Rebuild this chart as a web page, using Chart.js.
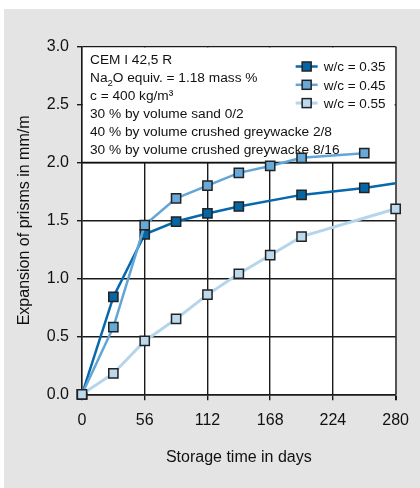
<!DOCTYPE html>
<html>
<head>
<meta charset="utf-8">
<script src="https://cdn.jsdelivr.net/npm/chart.js@4.4.1/dist/chart.umd.min.js"></script>
<style>
  html, body { margin: 0; padding: 0; background: #ffffff; }
  #wrap { width: 420px; height: 488px; position: relative; }
</style>
</head>
<body>
<div id="wrap"><canvas id="myChart"></canvas></div>
<script>
/*declare chart data*/
const seriesLabels = ['w/c = 0.35', 'w/c = 0.45', 'w/c = 0.55'];

const days035 = [0, 28, 56, 84, 112, 140, 196, 252, 280];
const exp035  = [0, 0.84, 1.38, 1.49, 1.56, 1.62, 1.72, 1.78, 1.82];

const days045 = [0, 28, 56, 84, 112, 140, 168, 196, 252];
const exp045  = [0, 0.58, 1.46, 1.69, 1.80, 1.91, 1.97, 2.04, 2.08];

const days055 = [0, 28, 56, 84, 112, 140, 168, 196, 280];
const exp055  = [0, 0.18, 0.46, 0.65, 0.86, 1.04, 1.20, 1.36, 1.60];

const xTicks = [0, 56, 112, 168, 224, 280];
const yTicks = [0, 0.5, 1.0, 1.5, 2.0, 2.5, 3.0];

const infoLines = [
  'CEM I 42,5 R',
  'Na2O equiv. = 1.18 mass %',
  'c = 400 kg/m\u00b3',
  '30 % by volume sand 0/2',
  '40 % by volume crushed greywacke 2/8',
  '30 % by volume crushed greywacke 8/16'
];

const lineColors   = ['#0768ab', '#62a6d8', '#b5d5ec'];
const markerColors = ['#0566a6', '#67aad9', '#bcd9ee'];

function toPoints(xs, ys) {
  return xs.map((x, i) => ({ x: x, y: ys[i] }));
}

/*wire the datasets*/
const seriesPoints = [
  toPoints(days035, exp035),
  toPoints(days045, exp045),
  toPoints(days055, exp055)
];

const datasets = seriesPoints.map((pts, i) => ({
  label: seriesLabels[i],
  data: pts,
  borderColor: lineColors[i],
  borderWidth: i === 2 ? 3 : 2.5,
  backgroundColor: markerColors[i],
  pointStyle: 'rect',
  // the 0.35 curve runs on to the right edge without a last marker
  pointRadius: pts.map((p, j) => (i === 0 && j === pts.length - 1) ? 0 : 6.5),
  pointBorderColor: '#222222',
  pointBorderWidth: 1.5,
  pointBackgroundColor: markerColors[i],
  order: 3 - i,
  clip: false,
  tension: 0
}));

/*panel background, info box and legend*/
const panelPlugin = {
  id: 'panel',
  beforeDraw(chart) {
    const { ctx, chartArea: a } = chart;
    ctx.save();
    ctx.fillStyle = '#ffffff';
    ctx.fillRect(0, 0, chart.width, chart.height);
    ctx.fillStyle = '#e3e4e3';
    ctx.fillRect(4, 9, chart.width - 4, chart.height - 9);
    ctx.fillStyle = '#ffffff';
    ctx.fillRect(a.left, a.top, a.right - a.left, a.bottom - a.top);
    ctx.restore();
  },
  beforeDatasetsDraw(chart) {
    const { ctx, chartArea: a, scales } = chart;
    const yBox = scales.y.getPixelForValue(2.0);
    ctx.save();
    ctx.fillStyle = '#ffffff';
    ctx.fillRect(a.left + 1, a.top + 1, a.right - a.left - 2, yBox - a.top - 1);
    ctx.strokeStyle = '#111111';
    ctx.lineWidth = 1.4;
    ctx.beginPath();
    ctx.moveTo(a.left, yBox);
    ctx.lineTo(a.right, yBox);
    ctx.stroke();

    /*info text*/
    ctx.fillStyle = '#111111';
    ctx.textBaseline = 'alphabetic';
    ctx.textAlign = 'left';
    const tx = a.left + 8;
    infoLines.forEach((line, i) => {
      const by = a.top + 17.5 + i * 17.9;
      if (line.startsWith('Na2O')) {
        ctx.font = '13.7px "Liberation Sans", Arial, sans-serif';
        ctx.fillText('Na', tx, by);
        let w = ctx.measureText('Na').width;
        ctx.font = '9.5px "Liberation Sans", Arial, sans-serif';
        ctx.fillText('2', tx + w, by + 4);
        w += ctx.measureText('2').width;
        ctx.font = '13.7px "Liberation Sans", Arial, sans-serif';
        ctx.fillText(line.slice(3), tx + w, by);
      } else {
        ctx.font = '13.7px "Liberation Sans", Arial, sans-serif';
        ctx.fillText(line, tx, by);
      }
    });

    /*legend*/
    ctx.font = '13.5px "Liberation Sans", Arial, sans-serif';
    ctx.textBaseline = 'middle';
    seriesLabels.forEach((lab, i) => {
      const ly = a.top + 20 + i * 18.3;
      const lx = a.right - 100;
      ctx.strokeStyle = lineColors[i];
      ctx.lineWidth = i === 2 ? 3 : 2.5;
      ctx.beginPath();
      ctx.moveTo(lx, ly);
      ctx.lineTo(lx + 22, ly);
      ctx.stroke();
      ctx.fillStyle = markerColors[i];
      ctx.strokeStyle = '#222222';
      ctx.lineWidth = 1.5;
      ctx.fillRect(lx + 6.5, ly - 4.5, 9, 9);
      ctx.strokeRect(lx + 6.5, ly - 4.5, 9, 9);
      ctx.fillStyle = '#111111';
      ctx.fillText(lab, lx + 28, ly + 1);
    });
    ctx.restore();
  }
};

/*chart options*/
const tickFont = { family: '"Liberation Sans", Arial, sans-serif', size: 16 };
const titleFont = { family: '"Liberation Sans", Arial, sans-serif', size: 16 };

const config = {
  type: 'line',
  data: { datasets: datasets },
  plugins: [panelPlugin],
  options: {
    responsive: true,
    maintainAspectRatio: false,
    animation: false,
    events: [],
    layout: { padding: { top: 46.5, right: 15, left: 0, bottom: 0 } },
    plugins: {
      legend: { display: false },
      tooltip: { enabled: false }
    },
    scales: {
      x: {
        type: 'linear',
        min: 0,
        max: 280,
        afterBuildTicks: (s) => { s.ticks = xTicks.map(v => ({ value: v })); },
        afterFit: (s) => { s.height = 93.7; },
        ticks: { font: tickFont, color: '#111111', padding: 11, maxRotation: 0 },
        grid: {
          color: (c) => c.tick && c.tick.value === 280 ? '#555555' : '#1a1a1a',
          lineWidth: (c) => c.tick && c.tick.value === 280 ? 2 : 1.4,
          tickLength: 6,
          tickColor: '#1a1a1a'
        },
        border: { color: '#1a1a1a', width: 1.4 },
        title: {
          display: true,
          text: 'Storage time in days',
          font: titleFont,
          color: '#111111',
          padding: { top: 0, bottom: 21 }
        }
      },
      y: {
        type: 'linear',
        min: 0,
        max: 3,
        afterBuildTicks: (s) => { s.ticks = yTicks.map(v => ({ value: v })); },
        afterFit: (s) => { s.width = 82; },
        ticks: {
          font: tickFont,
          color: '#111111',
          padding: 8,
          callback: (v) => Number(v).toFixed(1)
        },
        grid: { color: '#1a1a1a', lineWidth: 1.4, tickLength: 5, tickColor: '#1a1a1a' },
        border: { color: '#1a1a1a', width: 1.4 },
        title: {
          display: true,
          text: 'Expansion of prisms in mm/m',
          font: titleFont,
          color: '#111111',
          padding: { top: 15, bottom: 0 }
        }
      }
    }
  }
};

/*create chart*/
const myChart = new Chart(document.getElementById('myChart'), config);
</script>
</body>
</html>
